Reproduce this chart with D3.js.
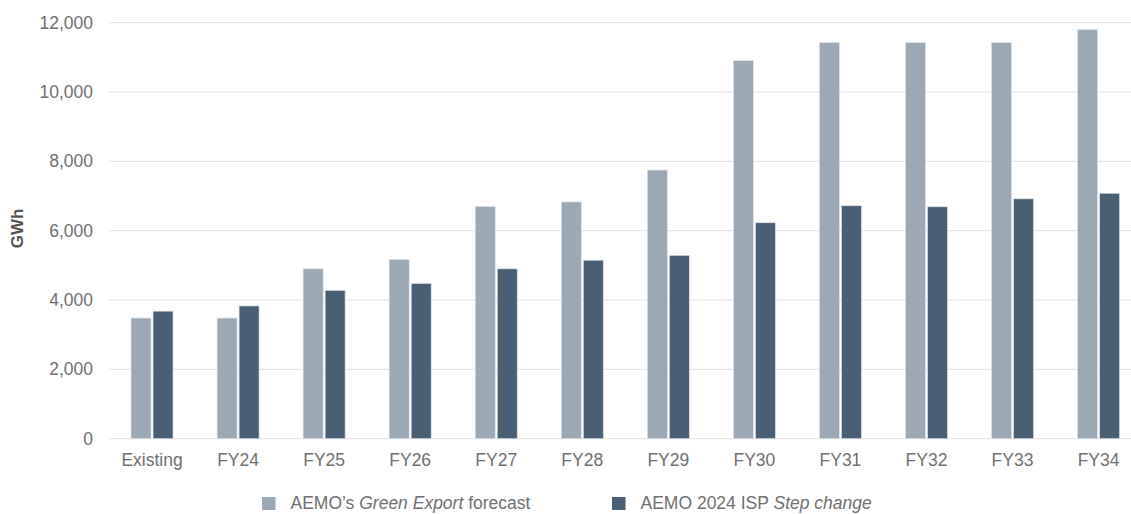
<!DOCTYPE html>
<html>
<head>
<meta charset="utf-8">
<script src="https://cdn.jsdelivr.net/npm/d3@7"></script>
<style>
  html, body { margin: 0; padding: 0; background: #fff; }
  svg { display: block; font-family: "Liberation Sans", Arial, sans-serif; }
</style>
</head>
<body>
<svg id="chart" width="1131" height="514"></svg>
<script>
// Annual hydrogen-related electricity demand, GWh
const categories = ["Existing", "FY24", "FY25", "FY26", "FY27", "FY28", "FY29", "FY30", "FY31", "FY32", "FY33", "FY34"];
const greenExport = [3480, 3480, 4900, 5170, 6700, 6830, 7750, 10910, 11430, 11430, 11430, 11800];
const stepChange = [3680, 3830, 4280, 4480, 4900, 5150, 5290, 6230, 6720, 6690, 6920, 7080];
const yTicks = [0, 2000, 4000, 6000, 8000, 10000, 12000];
const seriesNames = ["greenExport", "stepChange"];

const colors = { greenExport: "#9ca8b4", stepChange: "#4a5e74" };
const textColor = "#707070";

const svg = d3.select("#chart");

const x = d3.scaleBand().domain(categories).range([109, 1141.6]).paddingInner(0).paddingOuter(0);
const y = d3.scaleLinear().domain([0, 12000]).range([438.7, 22.7]);
const barW = 20, barGap = 2;

// Gridlines
svg.append("g")
  .selectAll("line")
  .data(yTicks)
  .join("line")
  .attr("x1", 109).attr("x2", 1131)
  .attr("y1", d => y(d)).attr("y2", d => y(d))
  .attr("stroke", "#e6e6e6").attr("stroke-width", 1.2);

// Y axis labels
const yAxis = d3.axisLeft(y).tickValues(yTicks).tickFormat(d3.format(",")).tickSize(0).tickPadding(0);
const yg = svg.append("g").attr("transform", "translate(93,0)").call(yAxis);
yg.select(".domain").remove();
yg.selectAll("text").attr("font-size", 17.5).attr("fill", textColor).attr("font-family", null);

// Y axis title
svg.append("text")
  .attr("transform", "translate(22.5,228.5) rotate(-90)")
  .attr("text-anchor", "middle")
  .attr("font-size", 17).attr("font-weight", 700).attr("fill", "#555")
  .text("GWh");

// Bars
const rows = categories.map((c, i) => ({ cat: c, greenExport: greenExport[i], stepChange: stepChange[i] }));
const groups = svg.append("g").selectAll("g")
  .data(rows).join("g")
  .attr("transform", d => `translate(${x(d.cat) + x.bandwidth() / 2},0)`);

groups.selectAll("rect")
  .data(d => seriesNames.map(k => ({ key: k, value: d[k] })))
  .join("rect")
  .attr("x", d => d.key === "greenExport" ? -(barW + barGap / 2) : barGap / 2)
  .attr("width", barW)
  .attr("y", d => y(d.value))
  .attr("height", d => y(0) - y(d.value))
  .attr("fill", d => colors[d.key])
  .attr("stroke", "#dde2e8").attr("stroke-width", 0.7);

// X axis labels
const xAxis = d3.axisBottom(x).tickSize(0).tickPadding(0);
const xg = svg.append("g").attr("transform", "translate(0,453.5)").call(xAxis);
xg.select(".domain").remove();
xg.selectAll("text").attr("font-size", 17.5).attr("fill", textColor).attr("font-family", null);

// Legend
const legend = [
  { key: "greenExport", x: 262, parts: [["AEMO\u2019s ", "normal"], ["Green Export", "italic"], [" forecast", "normal"]] },
  { key: "stepChange", x: 612, parts: [["AEMO 2024 ISP ", "normal"], ["Step change", "italic"]] }
];
const lg = svg.append("g").selectAll("g").data(legend).join("g")
  .attr("transform", d => `translate(${d.x},497)`);
lg.append("rect").attr("width", 13.5).attr("height", 13).attr("fill", d => colors[d.key]);
lg.append("text")
  .attr("x", 28.5).attr("y", 12)
  .attr("font-size", 17.5).attr("fill", textColor)
  .selectAll("tspan").data(d => d.parts).join("tspan")
  .attr("font-style", d => d[1])
  .text(d => d[0]);
</script>
</body>
</html>
